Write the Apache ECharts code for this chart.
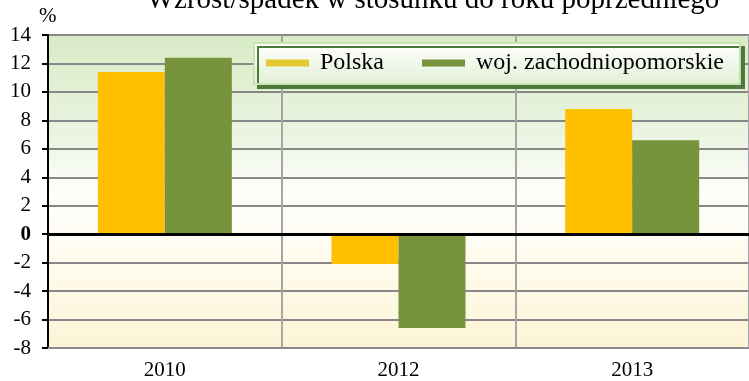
<!DOCTYPE html>
<html>
<head>
<meta charset="utf-8">
<script src="https://cdn.jsdelivr.net/npm/echarts@6/dist/echarts.min.js"></script>
<style>
  html, body { margin: 0; padding: 0; background: #ffffff; }
  #chart { width: 749px; height: 381px; }
</style>
</head>
<body>
<div id="chart"></div>
<script>
// Year-on-year change, in percent
const categories = ['2010', '2012', '2013'];
const polska = [11.4, -2.1, 8.8];
const zachodniopomorskie = [12.4, -6.6, 6.6];
const seriesNames = ['Polska', 'woj. zachodniopomorskie'];
const titleText = 'Wzrost/spadek w stosunku do roku poprzedniego';

const serif = '"Liberation Serif", "Times New Roman", serif';
const chart = echarts.init(document.getElementById('chart'));

chart.setOption({
  animation: false,
  backgroundColor: '#ffffff',
  title: {
    text: titleText,
    left: 428,
    textAlign: 'center',
    top: -19,
    textStyle: { fontFamily: serif, fontSize: 29, fontWeight: 'normal', color: '#000' }
  },
  legend: {
    data: [
      { name: seriesNames[0], itemStyle: { color: '#e6c932' } },
      { name: seriesNames[1], itemStyle: { color: '#77933c' } }
    ],
    left: 254,
    top: 43,
    padding: [8, 16, 9, 12],
    itemGap: 38,
    itemWidth: 43,
    itemHeight: 7,
    icon: 'rect',
    textStyle: { fontFamily: serif, fontSize: 24, color: '#000', padding: [0, 0, 0, 6] },
    backgroundColor: new echarts.graphic.LinearGradient(0, 0, 0, 1, [
      { offset: 0, color: '#ffffff' },
      { offset: 1, color: '#e2f0d6' }
    ]),
    borderColor: '#c4e4b0',
    borderWidth: 2,
    shadowColor: '#4d7a3c',
    shadowBlur: 0,
    shadowOffsetX: 4,
    shadowOffsetY: 4
  },
  grid: {
    left: 48,
    top: 35,
    width: 706,
    height: 313,
    show: true,
    borderWidth: 0,
    backgroundColor: new echarts.graphic.LinearGradient(0, 0, 0, 1, [
      { offset: 0, color: '#d8ebc6' },
      { offset: 0.3, color: '#e9f3df' },
      { offset: 0.5, color: '#fefefb' },
      { offset: 0.64, color: '#fffdf4' },
      { offset: 1, color: '#fdf4d6' }
    ])
  },
  graphic: [{
    type: 'text',
    left: 39,
    top: 6,
    style: { text: '%', fontFamily: serif, fontSize: 21, fill: '#000' }
  }],
  xAxis: {
    type: 'category',
    data: categories,
    axisLine: { onZero: false, lineStyle: { color: '#8a8a8a', width: 2 } },
    axisTick: { show: false },
    axisLabel: { fontFamily: serif, fontSize: 21, color: '#000', margin: 12 },
    splitLine: { show: true, lineStyle: { color: '#a6a6a6', width: 2 } }
  },
  yAxis: {
    type: 'value',
    min: -8,
    max: 14,
    interval: 2,
    axisLine: { show: true, lineStyle: { color: '#000', width: 2 } },
    axisTick: { show: true, length: 6, lineStyle: { color: '#000', width: 2 } },
    axisLabel: {
      fontFamily: serif,
      fontSize: 21,
      color: '#000',
      margin: 17,
      formatter: v => (v === 0 ? '{z|0}' : String(v)),
      rich: { z: { fontFamily: serif, fontSize: 21, fontWeight: 'bold', color: '#000' } }
    },
    splitLine: { lineStyle: { color: '#878787', width: 2 } }
  },
  series: [
    {
      name: seriesNames[0],
      type: 'bar',
      data: polska,
      barWidth: 67,
      barGap: '0%',
      itemStyle: { color: '#ffc000' },
      markLine: {
        silent: true,
        symbol: 'none',
        label: { show: false },
        lineStyle: { color: '#000', width: 3, type: 'solid' },
        data: [{ yAxis: 0 }]
      }
    },
    {
      name: seriesNames[1],
      type: 'bar',
      data: zachodniopomorskie,
      barWidth: 67,
      barGap: '0%',
      itemStyle: { color: '#77933c' }
    }
  ]
});
</script>
</body>
</html>
